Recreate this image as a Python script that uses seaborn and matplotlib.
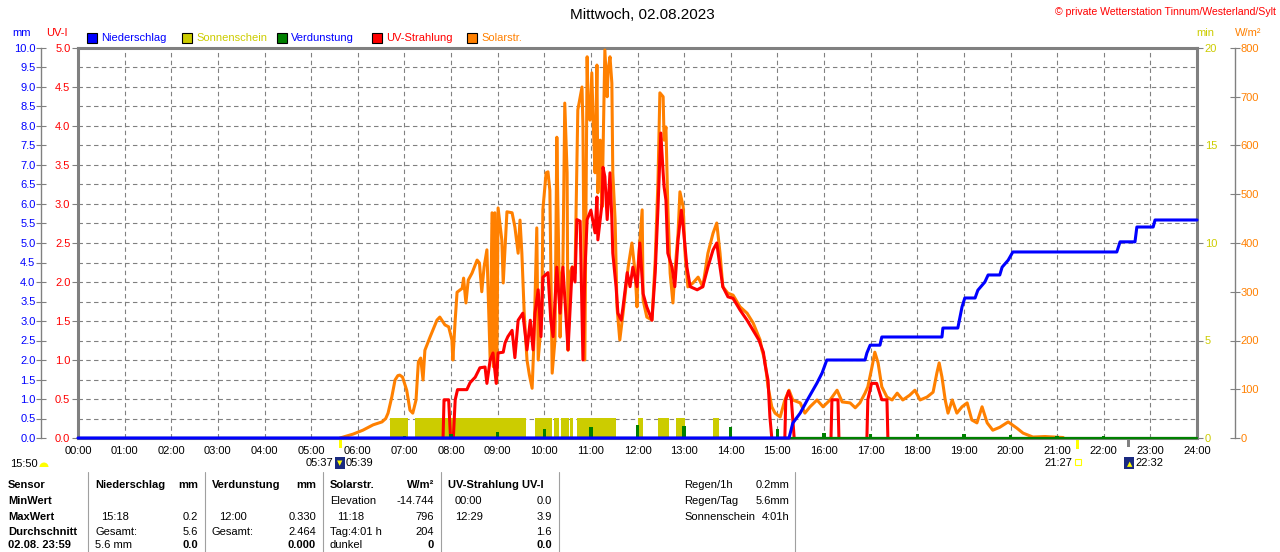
import numpy as np
import pandas as pd
import matplotlib
matplotlib.use("Agg")
import matplotlib.pyplot as plt
import seaborn as sns
from matplotlib.patches import Rectangle, Wedge
from matplotlib.lines import Line2D
from matplotlib.ticker import MultipleLocator

sns.set_theme(style="white")
plt.rcParams['font.family'] = ['Liberation Sans', 'DejaVu Sans']

# ---------------- data ----------------
hour_ticks = list(range(25))
hour_labels = [f"{h:02d}:00" for h in hour_ticks]

solar_t = [
 5.62, 5.69, 5.90, 6.11, 6.33, 6.52, 6.60, 6.65, 6.73, 6.80,
 6.86, 6.90, 6.96, 7.05, 7.12, 7.18, 7.25, 7.30, 7.35, 7.40,
 7.44, 7.55, 7.70, 7.76, 7.87, 7.95, 8.02, 8.04, 8.09, 8.13,
 8.24, 8.27, 8.32, 8.37, 8.45, 8.56, 8.61, 8.66, 8.71, 8.77,
 8.84, 8.88, 8.91, 8.94, 8.98, 9.01, 9.09, 9.12, 9.20, 9.31,
 9.37, 9.44, 9.48, 9.52, 9.57, 9.63, 9.68, 9.74, 9.78, 9.84,
 9.87, 9.95, 9.97, 10.04, 10.08, 10.12, 10.17, 10.23, 10.27, 10.29,
 10.34, 10.38, 10.40, 10.44, 10.49, 10.51, 10.55, 10.60, 10.66, 10.72,
 10.81, 10.83, 10.87, 10.92, 10.94, 10.98, 11.02, 11.05, 11.09, 11.13,
 11.15, 11.20, 11.24, 11.26, 11.30, 11.35, 11.37, 11.41, 11.45, 11.47,
 11.52, 11.56, 11.62, 11.69, 11.80, 11.88, 11.95, 11.99, 12.01, 12.10,
 12.12, 12.20, 12.31, 12.38, 12.44, 12.48, 12.55, 12.57, 12.61, 12.65,
 12.70, 12.76, 12.80, 12.87, 12.91, 12.98, 13.02, 13.08, 13.19, 13.30,
 13.40, 13.51, 13.62, 13.70, 13.77, 13.83, 13.94, 14.05, 14.20, 14.35,
 14.48, 14.63, 14.67, 14.73, 14.80, 14.88, 14.95, 15.06, 15.16, 15.25,
 15.33, 15.49, 15.59, 15.70, 15.85, 15.98, 16.13, 16.28, 16.39, 16.56,
 16.67, 16.77, 16.88, 16.94, 17.03, 17.09, 17.16, 17.24, 17.35, 17.46,
 17.57, 17.69, 17.84, 17.95, 18.06, 18.21, 18.34, 18.42, 18.47, 18.53,
 18.60, 18.66, 18.75, 18.85, 18.96, 19.07, 19.17, 19.28, 19.39, 19.50,
 19.62, 19.77, 19.95, 20.14, 20.27, 20.48, 20.74, 21.13]
solar_w = [
 0, 2, 8, 16, 27, 33, 40, 51, 84, 119,
 128, 129, 125, 98, 57, 51, 78, 156, 164, 119,
 180, 207, 242, 248, 232, 228, 201, 160, 242, 299,
 307, 328, 277, 324, 338, 365, 359, 300, 351, 386,
 160, 462, 146, 462, 113, 472, 406, 318, 464, 462,
 433, 379, 447, 379, 256, 160, 130, 102, 200, 431,
 160, 253, 468, 544, 546, 508, 133, 201, 617, 488,
 207, 338, 351, 687, 544, 180, 338, 351, 338, 673,
 720, 638, 160, 782, 679, 652, 749, 646, 544, 765,
 503, 611, 474, 585, 796, 700, 755, 782, 728, 544,
 447, 269, 201, 256, 351, 400, 338, 269, 351, 468,
 283, 248, 242, 365, 529, 708, 700, 611, 638, 474,
 338, 277, 338, 420, 505, 474, 379, 310, 318, 330,
 310, 379, 420, 441, 379, 310, 297, 293, 269, 256,
 236, 201, 180, 160, 105, 64, 51, 43, 78, 98,
 78, 72, 51, 64, 78, 64, 78, 98, 74, 72,
 62, 72, 92, 105, 146, 176, 154, 105, 84, 78,
 92, 78, 88, 98, 78, 84, 94, 133, 154, 125,
 78, 51, 78, 51, 64, 72, 37, 31, 64, 31,
 16, 22, 33, 20, 10, 2, 3, 1]

uv_t = [
 7.83, 7.85, 7.87, 7.95, 7.99, 8.05, 8.09, 8.14, 8.34, 8.41,
 8.52, 8.62, 8.73, 8.77, 8.84, 8.90, 8.97, 9.01, 9.12, 9.16,
 9.22, 9.31, 9.37, 9.44, 9.54, 9.63, 9.70, 9.76, 9.80, 9.87,
 9.93, 9.97, 10.08, 10.14, 10.19, 10.27, 10.34, 10.40, 10.51, 10.60,
 10.66, 10.70, 10.77, 10.83, 10.87, 10.92, 11.00, 11.09, 11.13, 11.15,
 11.24, 11.26, 11.30, 11.35, 11.41, 11.45, 11.47, 11.54, 11.58, 11.65,
 11.69, 11.78, 11.84, 11.90, 11.99, 12.05, 12.12, 12.20, 12.31, 12.38,
 12.44, 12.50, 12.55, 12.57, 12.61, 12.65, 12.74, 12.80, 12.87, 12.94,
 12.98, 13.06, 13.13, 13.28, 13.40, 13.51, 13.62, 13.70, 13.77, 13.83,
 13.94, 14.05, 14.20, 14.35, 14.48, 14.60, 14.70, 14.73, 14.80, 14.84,
 14.88,
 15.16, 15.18, 15.24, 15.30, 15.36,
 16.15, 16.17, 16.30, 16.32,
 16.92, 16.94, 17.02, 17.13, 17.24, 17.35, 17.37]
uv_v = [
 0, 0.49, 0.49, 0.49, 0, 0, 0.49, 0.62, 0.62, 0.71,
 0.78, 0.90, 0.91, 0.70, 1.00, 1.09, 0.70, 1.09, 1.10, 1.22,
 1.30, 1.38, 1.03, 1.51, 1.60, 1.13, 1.51, 1.13, 1.60, 1.90,
 1.30, 2.06, 2.12, 1.51, 1.30, 2.19, 1.60, 2.19, 1.13, 2.19,
 2.00, 2.80, 2.78, 1.00, 2.12, 2.80, 2.92, 2.63, 3.09, 2.54,
 3.01, 3.47, 3.35, 2.80, 3.40, 2.80, 2.37, 1.94, 1.60, 1.51,
 1.68, 2.12, 1.94, 2.19, 1.94, 2.50, 1.85, 1.68, 1.51, 2.12,
 2.96, 3.91, 3.40, 3.22, 3.05, 2.37, 2.19, 1.94, 2.54, 2.92,
 2.71, 2.19, 1.94, 1.90, 1.94, 2.19, 2.41, 2.50, 2.19, 1.94,
 1.81, 1.79, 1.64, 1.51, 1.38, 1.26, 1.10, 0.96, 0.74, 0.27,
 0,
 0, 0.49, 0.60, 0.49, 0,
 0, 0.49, 0.49, 0,
 0, 0.49, 0.70, 0.70, 0.49, 0.49, 0]
uv_segment_lengths = [101, 5, 4, 7]

rain_t = [
 0, 15.25, 15.33, 15.49, 15.64, 15.74, 15.85, 15.96, 16.06, 16.88,
 16.92, 16.99, 17.20, 17.24, 18.53, 18.55, 18.87, 18.96, 19.02, 19.24,
 19.30, 19.45, 19.52, 19.77, 19.82, 19.95, 20.05, 22.28, 22.35, 22.67,
 22.71, 23.06, 23.10, 24.0]
rain_mm = [
 0, 0, 0.38, 0.64, 0.97, 1.18, 1.41, 1.67, 2.0, 2.0,
 2.18, 2.38, 2.38, 2.59, 2.59, 2.82, 2.82, 3.36, 3.59, 3.59,
 3.79, 4.0, 4.18, 4.18, 4.38, 4.56, 4.77, 4.77, 5.03, 5.03,
 5.41, 5.41, 5.59, 5.59]

evap_hour = [1, 2, 3, 4, 5, 6, 7, 8, 9, 10, 11, 12, 13, 14, 15, 16, 17, 18, 19, 20, 21, 22, 23]
evap_mm = [0.02, 0.02, 0.02, 0.02, 0.02, 0.03, 0.05, 0.10, 0.15, 0.22, 0.28, 0.33,
           0.30, 0.27, 0.22, 0.13, 0.10, 0.10, 0.10, 0.08, 0.04, 0.04, 0.02]

sun_start = [6.69, 7.23, 9.80, 10.21, 10.36, 10.55, 10.70, 12.01, 12.44, 12.82, 13.62]
sun_end   = [7.08, 9.61, 10.17, 10.32, 10.53, 10.62, 11.54, 12.12, 12.67, 13.01, 13.75]
sun_min   = [1.05, 1.05, 1.05, 1.05, 1.05, 1.05, 1.05, 1.05, 1.05, 1.05, 1.05]

mm_ticks = [i * 0.5 for i in range(21)]
uv_ticks = [i * 0.5 for i in range(11)]
sun_ticks = [0, 5, 10, 15, 20]
solar_ticks = [0, 100, 200, 300, 400, 500, 600, 700, 800]

# ---------------- colours ----------------
C_BLUE = '#0000ff'
C_YEL = '#cccc00'
C_GREEN = '#008000'
C_RED = '#ff0000'
C_ORANGE = '#ff8000'
C_GREY = '#808080'

W, H = 1280, 552
fig = plt.figure(figsize=(W / 100, H / 100), dpi=100)
fig.patch.set_facecolor('white')

def fx(x):
    return x / W

def fy(y):
    return 1 - y / H

def txt(x, y, s, ha='left', color='black', size=8, weight='normal'):
    fig.text(fx(x), fy(y), s, ha=ha, va='center', color=color,
             fontsize=size, fontweight=weight)

def prect(x1, y1, x2, y2, fc, ec='none', lw=0):
    fig.add_artist(Rectangle((x1 / 100, (H - y2) / 100), (x2 - x1) / 100, (y2 - y1) / 100,
                             transform=fig.dpi_scale_trans, facecolor=fc,
                             edgecolor=ec, linewidth=lw))

L, R, T, B = 78, 1197, 48, 438
rect = [fx(L), fy(B), (R - L) / W, (B - T) / H]

ax_sun = fig.add_axes(rect)
ax_sol = fig.add_axes(rect, sharex=ax_sun)
ax_uv = fig.add_axes(rect, sharex=ax_sun)
ax_mm = fig.add_axes(rect, sharex=ax_sun)
for z, a in enumerate([ax_sun, ax_sol, ax_uv, ax_mm]):
    a.set_zorder(z + 1)
    if z > 0:
        a.patch.set_visible(False)
        for s in a.spines.values():
            s.set_visible(False)
        a.tick_params(axis='x', bottom=False, labelbottom=False, top=False)

# --- sunshine axis (base, with grid and frame) ---
ax_sun.set_facecolor('white')
ax_sun.bar(sun_start, sun_min, width=np.array(sun_end) - np.array(sun_start),
           align='edge', color=C_YEL, linewidth=0, zorder=2)
ax_sun.set_xlim(0, 24)
ax_sun.set_ylim(0, 20)
ax_sun.set_xticks(hour_ticks)
ax_sun.set_xticklabels(hour_labels)
ax_sun.tick_params(axis='x', length=0, pad=6, labelsize=8, labelcolor='black')
ax_sun.yaxis.set_ticks_position('right')
ax_sun.set_yticks(sun_ticks)
ax_sun.set_yticklabels([str(v) for v in sun_ticks])
ax_sun.yaxis.set_minor_locator(MultipleLocator(1))
ax_sun.tick_params(axis='y', which='major', direction='out', length=4, width=0.8,
                   color=C_GREY, labelcolor=C_YEL, labelsize=8, pad=1.5)
ax_sun.tick_params(axis='y', which='minor', length=0)
ax_sun.grid(True, which='both', axis='y', color=C_GREY, lw=0.8, ls=(0, (4, 3)), zorder=0)
ax_sun.grid(True, which='major', axis='x', color=C_GREY, lw=0.8, ls=(0, (4, 3)), zorder=0)
ax_sun.set_axisbelow(True)
for s in ax_sun.spines.values():
    s.set_visible(True)
    s.set_color(C_GREY)
    s.set_linewidth(2.2)

# --- solar radiation ---
sns.lineplot(x=solar_t, y=solar_w, ax=ax_sol, color=C_ORANGE, lw=2.2,
             estimator=None, sort=False)
ax_sol.set_ylim(0, 800)
ax_sol.yaxis.set_ticks_position('right')
ax_sol.spines['right'].set_visible(True)
ax_sol.spines['right'].set_position(('axes', 1 + (1235 - R) / (R - L)))
ax_sol.spines['right'].set_color(C_GREY)
ax_sol.spines['right'].set_linewidth(1)
ax_sol.set_yticks(solar_ticks)
ax_sol.set_yticklabels([str(v) for v in solar_ticks])
ax_sol.tick_params(axis='y', direction='inout', length=7, width=0.8, color=C_GREY,
                   labelcolor=C_ORANGE, labelsize=8, pad=0.5)

# --- UV ---
uv_df = pd.DataFrame({'t': uv_t, 'uv': uv_v,
                      'seg': np.repeat(np.arange(len(uv_segment_lengths)), uv_segment_lengths)})
sns.lineplot(data=uv_df, x='t', y='uv', units='seg', estimator=None, sort=False,
             ax=ax_uv, color=C_RED, lw=2.2)
ax_uv.set_ylim(0, 5)
ax_uv.set_yticks(uv_ticks)
ax_uv.set_yticklabels([f"{v:.1f}" for v in uv_ticks])
ax_uv.tick_params(axis='y', direction='out', length=4, width=0.8, color=C_GREY,
                  labelcolor=C_RED, labelsize=8, pad=1.5, left=True)

# --- precipitation + evaporation ---
ax_mm.axhline(0, color=C_GREEN, lw=1.6, zorder=1, clip_on=False)
ax_mm.bar(evap_hour, evap_mm, width=0.07, color=C_GREEN, linewidth=0, zorder=2)
sns.lineplot(x=rain_t, y=rain_mm, ax=ax_mm, color=C_BLUE, lw=2.2,
             estimator=None, sort=False, zorder=3)
for ln in ax_mm.lines:
    ln.set_clip_on(False)
ax_mm.set_ylim(0, 10)
ax_mm.spines['left'].set_visible(True)
ax_mm.spines['left'].set_position(('axes', -(L - 41) / (R - L)))
ax_mm.spines['left'].set_color(C_GREY)
ax_mm.spines['left'].set_linewidth(1)
ax_mm.set_yticks(mm_ticks)
ax_mm.set_yticklabels([f"{v:.1f}" for v in mm_ticks])
ax_mm.tick_params(axis='y', direction='inout', length=7, width=0.8, color=C_GREY,
                  labelcolor=C_BLUE, labelsize=8, pad=0.5, left=True)

for a in [ax_sun, ax_sol, ax_uv, ax_mm]:
    a.set_xlabel('')
    a.set_ylabel('')
ax_sun.set_xlim(0, 24)

# ---------------- header texts ----------------
txt(642, 15, "Mittwoch, 02.08.2023", ha='center', size=11)
txt(1276, 12, "© private Wetterstation Tinnum/Westerland/Sylt", ha='right', color=C_RED, size=7.6)
txt(22, 33, "mm", ha='center', color=C_BLUE)
txt(57, 33, "UV-I", ha='center', color=C_RED)
txt(1205, 33, "min", ha='center', color=C_YEL)
txt(1248, 33, "W/m²", ha='center', color=C_ORANGE)

legend_items = [(87, C_BLUE, "Niederschlag", C_BLUE),
                (182, C_YEL, "Sonnenschein", C_YEL),
                (277, C_GREEN, "Verdunstung", C_BLUE),
                (372, C_RED, "UV-Strahlung", C_RED),
                (467, C_ORANGE, "Solarstr.", C_ORANGE)]
for x0, fc, label, tc in legend_items:
    prect(x0, 33, x0 + 10, 43, fc, ec='black', lw=0.8)
    txt(x0 + 14, 38, label, color=tc)

# ---------------- sun / moon markers ----------------
prect(339, 432, 342, 448, '#ffff00')
prect(1076, 432, 1079, 449, '#ffff00')
prect(1127, 433, 1130, 447, C_GREY)
txt(10, 464, "15:50")
fig.add_artist(Wedge((44 / 100, (H - 467) / 100), 0.045, 0, 180,
                     transform=fig.dpi_scale_trans, facecolor='#ffff00', edgecolor='none'))
txt(333, 463, "05:37", ha='right')
prect(335, 457, 345, 469, '#1a2a80')
fig.text(fx(340), fy(463), "▼", ha='center', va='center', color='#ffff00', fontsize=5,
         family=['DejaVu Sans'])
txt(346, 463, "05:39")
txt(1072, 463, "21:27", ha='right')
prect(1075, 459, 1081, 465, 'white', ec='#ffff00', lw=0.8)
prect(1124, 457, 1134, 469, '#1a2a80')
fig.text(fx(1130), fy(464), "▲", ha='center', va='center', color='#ffff00', fontsize=5,
         family=['DejaVu Sans'])
txt(1135, 463, "22:32")

# ---------------- summary table ----------------
for xv in [88, 205, 323, 441, 559, 795]:
    fig.add_artist(Line2D([fx(xv), fx(xv)], [fy(472), fy(552)], color='#a0a0a0', lw=0.8))

rows = [485, 501, 517, 532, 545]
for y, s in zip(rows, ["Sensor", "MinWert", "MaxWert", "Durchschnitt", "02.08. 23:59"]):
    txt(8, y, s, weight='bold')

txt(95, rows[0], "Niederschlag", weight='bold'); txt(198, rows[0], "mm", ha='right', weight='bold')
txt(101, rows[2], "15:18"); txt(198, rows[2], "0.2", ha='right')
txt(95, rows[3], "Gesamt:"); txt(198, rows[3], "5.6", ha='right')
txt(95, rows[4], "5.6 mm"); txt(198, rows[4], "0.0", ha='right', weight='bold')

txt(212, rows[0], "Verdunstung", weight='bold'); txt(316, rows[0], "mm", ha='right', weight='bold')
txt(219, rows[2], "12:00"); txt(316, rows[2], "0.330", ha='right')
txt(212, rows[3], "Gesamt:"); txt(316, rows[3], "2.464", ha='right')
txt(316, rows[4], "0.000", ha='right', weight='bold')

txt(330, rows[0], "Solarstr.", weight='bold'); txt(434, rows[0], "W/m²", ha='right', weight='bold')
txt(330, rows[1], "Elevation"); txt(434, rows[1], "-14.744", ha='right')
txt(337, rows[2], "11:18"); txt(434, rows[2], "796", ha='right')
txt(330, rows[3], "Tag:4:01 h"); txt(434, rows[3], "204", ha='right')
txt(330, rows[4], "dunkel"); txt(434, rows[4], "0", ha='right', weight='bold')

txt(448, rows[0], "UV-Strahlung UV-I", weight='bold')
txt(455, rows[1], "00:00"); txt(552, rows[1], "0.0", ha='right')
txt(455, rows[2], "12:29"); txt(552, rows[2], "3.9", ha='right')
txt(552, rows[3], "1.6", ha='right')
txt(552, rows[4], "0.0", ha='right', weight='bold')

txt(684, rows[0], "Regen/1h"); txt(789, rows[0], "0.2mm", ha='right')
txt(684, rows[1], "Regen/Tag"); txt(789, rows[1], "5.6mm", ha='right')
txt(684, rows[2], "Sonnenschein"); txt(789, rows[2], "4:01h", ha='right')

fig.savefig("out.png", dpi=100)
